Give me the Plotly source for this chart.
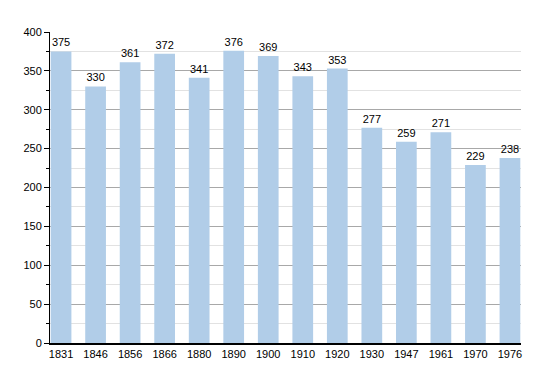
import plotly.graph_objects as go

years = ["1831", "1846", "1856", "1866", "1880", "1890", "1900", "1910", "1920",
         "1930", "1947", "1961", "1970", "1976"]
population = [375, 330, 361, 372, 341, 376, 369, 343, 353, 277, 259, 271, 229, 238]
y_ticks = [0, 50, 100, 150, 200, 250, 300, 350, 400]

idx = list(range(len(years)))

fig = go.Figure()
fig.add_trace(go.Bar(
    x=idx, y=population, width=0.6,
    marker=dict(color="#b1cde8", line=dict(width=0)),
    text=[str(v) for v in population], textposition="outside",
    textfont=dict(family="Liberation Sans, Arial, sans-serif", size=11, color="#000"),
    cliponaxis=False,
))

fig.update_layout(
    width=550, height=373,
    margin=dict(l=50, r=29, t=32, b=30),
    paper_bgcolor="white", plot_bgcolor="white",
    showlegend=False,
    bargap=0.4,
    font=dict(family="Liberation Sans, Arial, sans-serif", size=11, color="#000"),
    xaxis=dict(
        tickmode="array", tickvals=idx, ticktext=years,
        range=[-0.32, 13.32], showgrid=False, zeroline=False,
        showline=True, linecolor="#000", linewidth=1.5, ticks="",
        ticklabelstandoff=0,
    ),
    yaxis=dict(
        range=[0, 400], tickmode="array", tickvals=y_ticks,
        showgrid=True, gridcolor="#a8a8a8", gridwidth=1,
        zeroline=False, showline=True, linecolor="#000", linewidth=1,
        ticks="outside", ticklen=5, tickcolor="#000",
        minor=dict(dtick=25, showgrid=True, gridcolor="#e2e2e2", ticks="outside",
                   ticklen=3, tickcolor="#000"),
    ),
)

fig.write_html("out.html", config={"displayModeBar": False},
               post_script="document.body.style.margin='0';document.body.style.overflow='hidden';")
